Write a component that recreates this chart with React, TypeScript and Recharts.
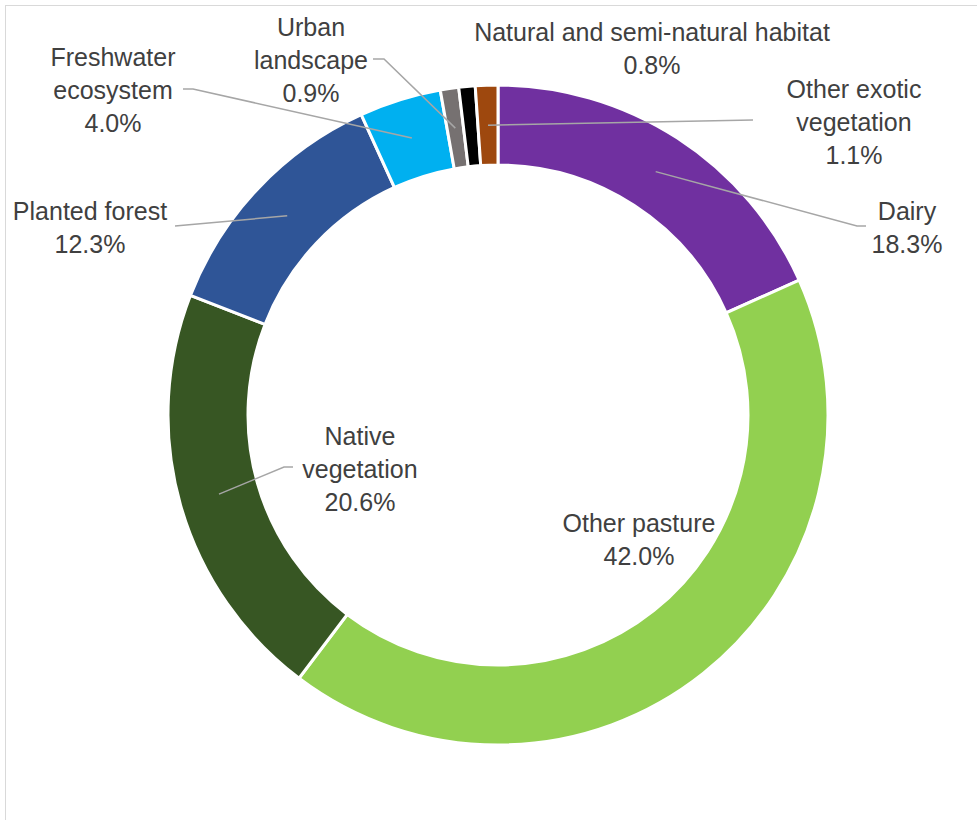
import { PieChart, Pie, Cell } from 'recharts';

const categories = [
  'Dairy',
  'Other pasture',
  'Native vegetation',
  'Planted forest',
  'Freshwater ecosystem',
  'Urban landscape',
  'Natural and semi-natural habitat',
  'Other exotic vegetation',
];
const shares = [18.3, 42.0, 20.6, 12.3, 4.0, 0.9, 0.8, 1.1];
const labelLines = [
  ['Dairy'],
  ['Other pasture'],
  ['Native', 'vegetation'],
  ['Planted forest'],
  ['Freshwater', 'ecosystem'],
  ['Urban', 'landscape'],
  ['Natural and semi-natural habitat'],
  ['Other exotic', 'vegetation'],
];
const colors = ['#7030A0', '#92D050', '#375623', '#2F5597', '#00B0F0', '#767171', '#000000', '#9E480E'];

// label placement relative to the pie centre (Excel moved these by hand)
// t: text centre of first line; e: elbow of leader; s: end of leader stub
const labelLayout: { t: [number, number]; e?: [number, number]; s?: [number, number] }[] = [
  { t: [409, -204], e: [359, -189], s: [368, -189] },
  { t: [141, 108] },
  { t: [-138, 21], e: [-214, 52], s: [-205, 52] },
  { t: [-408, -204], e: [-323, -189] },
  { t: [-385, -358], e: [-305, -326], s: [-315, -326] },
  { t: [-187, -388], e: [-114, -356], s: [-125, -356] },
  { t: [154, -383] },
  { t: [356, -326], e: [255, -295] },
];

const data = categories.map((name, i) => ({ name, value: shares[i] }));

const RAD = Math.PI / 180;
const LINE_H = 33;

const renderLabel = (props: any) => {
  const { cx, cy, midAngle, innerRadius, outerRadius, index, value } = props;
  const lay = labelLayout[index];
  const r = (innerRadius + outerRadius) / 2;
  const ax = cx + r * Math.cos(-midAngle * RAD);
  const ay = cy + r * Math.sin(-midAngle * RAD);
  const lines = [...labelLines[index], value.toFixed(1) + '%'];
  const tx = cx + lay.t[0];
  const ty = cy + lay.t[1];
  let pts = '';
  if (lay.e) {
    pts = `${ax},${ay} ${cx + lay.e[0]},${cy + lay.e[1]}`;
    if (lay.s) pts += ` ${cx + lay.s[0]},${cy + lay.s[1]}`;
  }
  return (
    <g key={'lbl' + index}>
      {pts && <polyline points={pts} fill="none" stroke="#A6A6A6" strokeWidth={1.5} />}
      <text
        x={tx}
        y={ty}
        textAnchor="middle"
        fill="#404040"
        fontSize={25}
        fontFamily="'Liberation Sans', Arial, sans-serif"
      >
        {lines.map((ln, k) => (
          <tspan key={k} x={tx} y={ty + 9 + k * LINE_H}>
            {ln}
          </tspan>
        ))}
      </text>
    </g>
  );
};

export default function App() {
  return (
    <div style={{ position: 'fixed', left: 0, top: 0, width: 977, height: 820, overflow: 'hidden', background: '#fff' }}>
      <div
        style={{
          position: 'absolute',
          left: 5,
          top: 5,
          width: 1100,
          height: 1000,
          border: '1px solid #D9D9D9',
        }}
      />
      <div style={{ position: 'absolute', left: 0, top: 0 }}>
        <PieChart width={977} height={820} margin={{ top: 0, right: 0, bottom: 0, left: 0 }}>
          <Pie
            data={data}
            dataKey="value"
            nameKey="name"
            cx={498}
            cy={415}
            innerRadius={250}
            outerRadius={330}
            startAngle={90}
            endAngle={-270}
            stroke="#FFFFFF"
            strokeWidth={3}
            label={renderLabel}
            labelLine={false}
            isAnimationActive={false}
          >
            {data.map((d, i) => (
              <Cell key={d.name} fill={colors[i]} />
            ))}
          </Pie>
        </PieChart>
      </div>
    </div>
  );
}
